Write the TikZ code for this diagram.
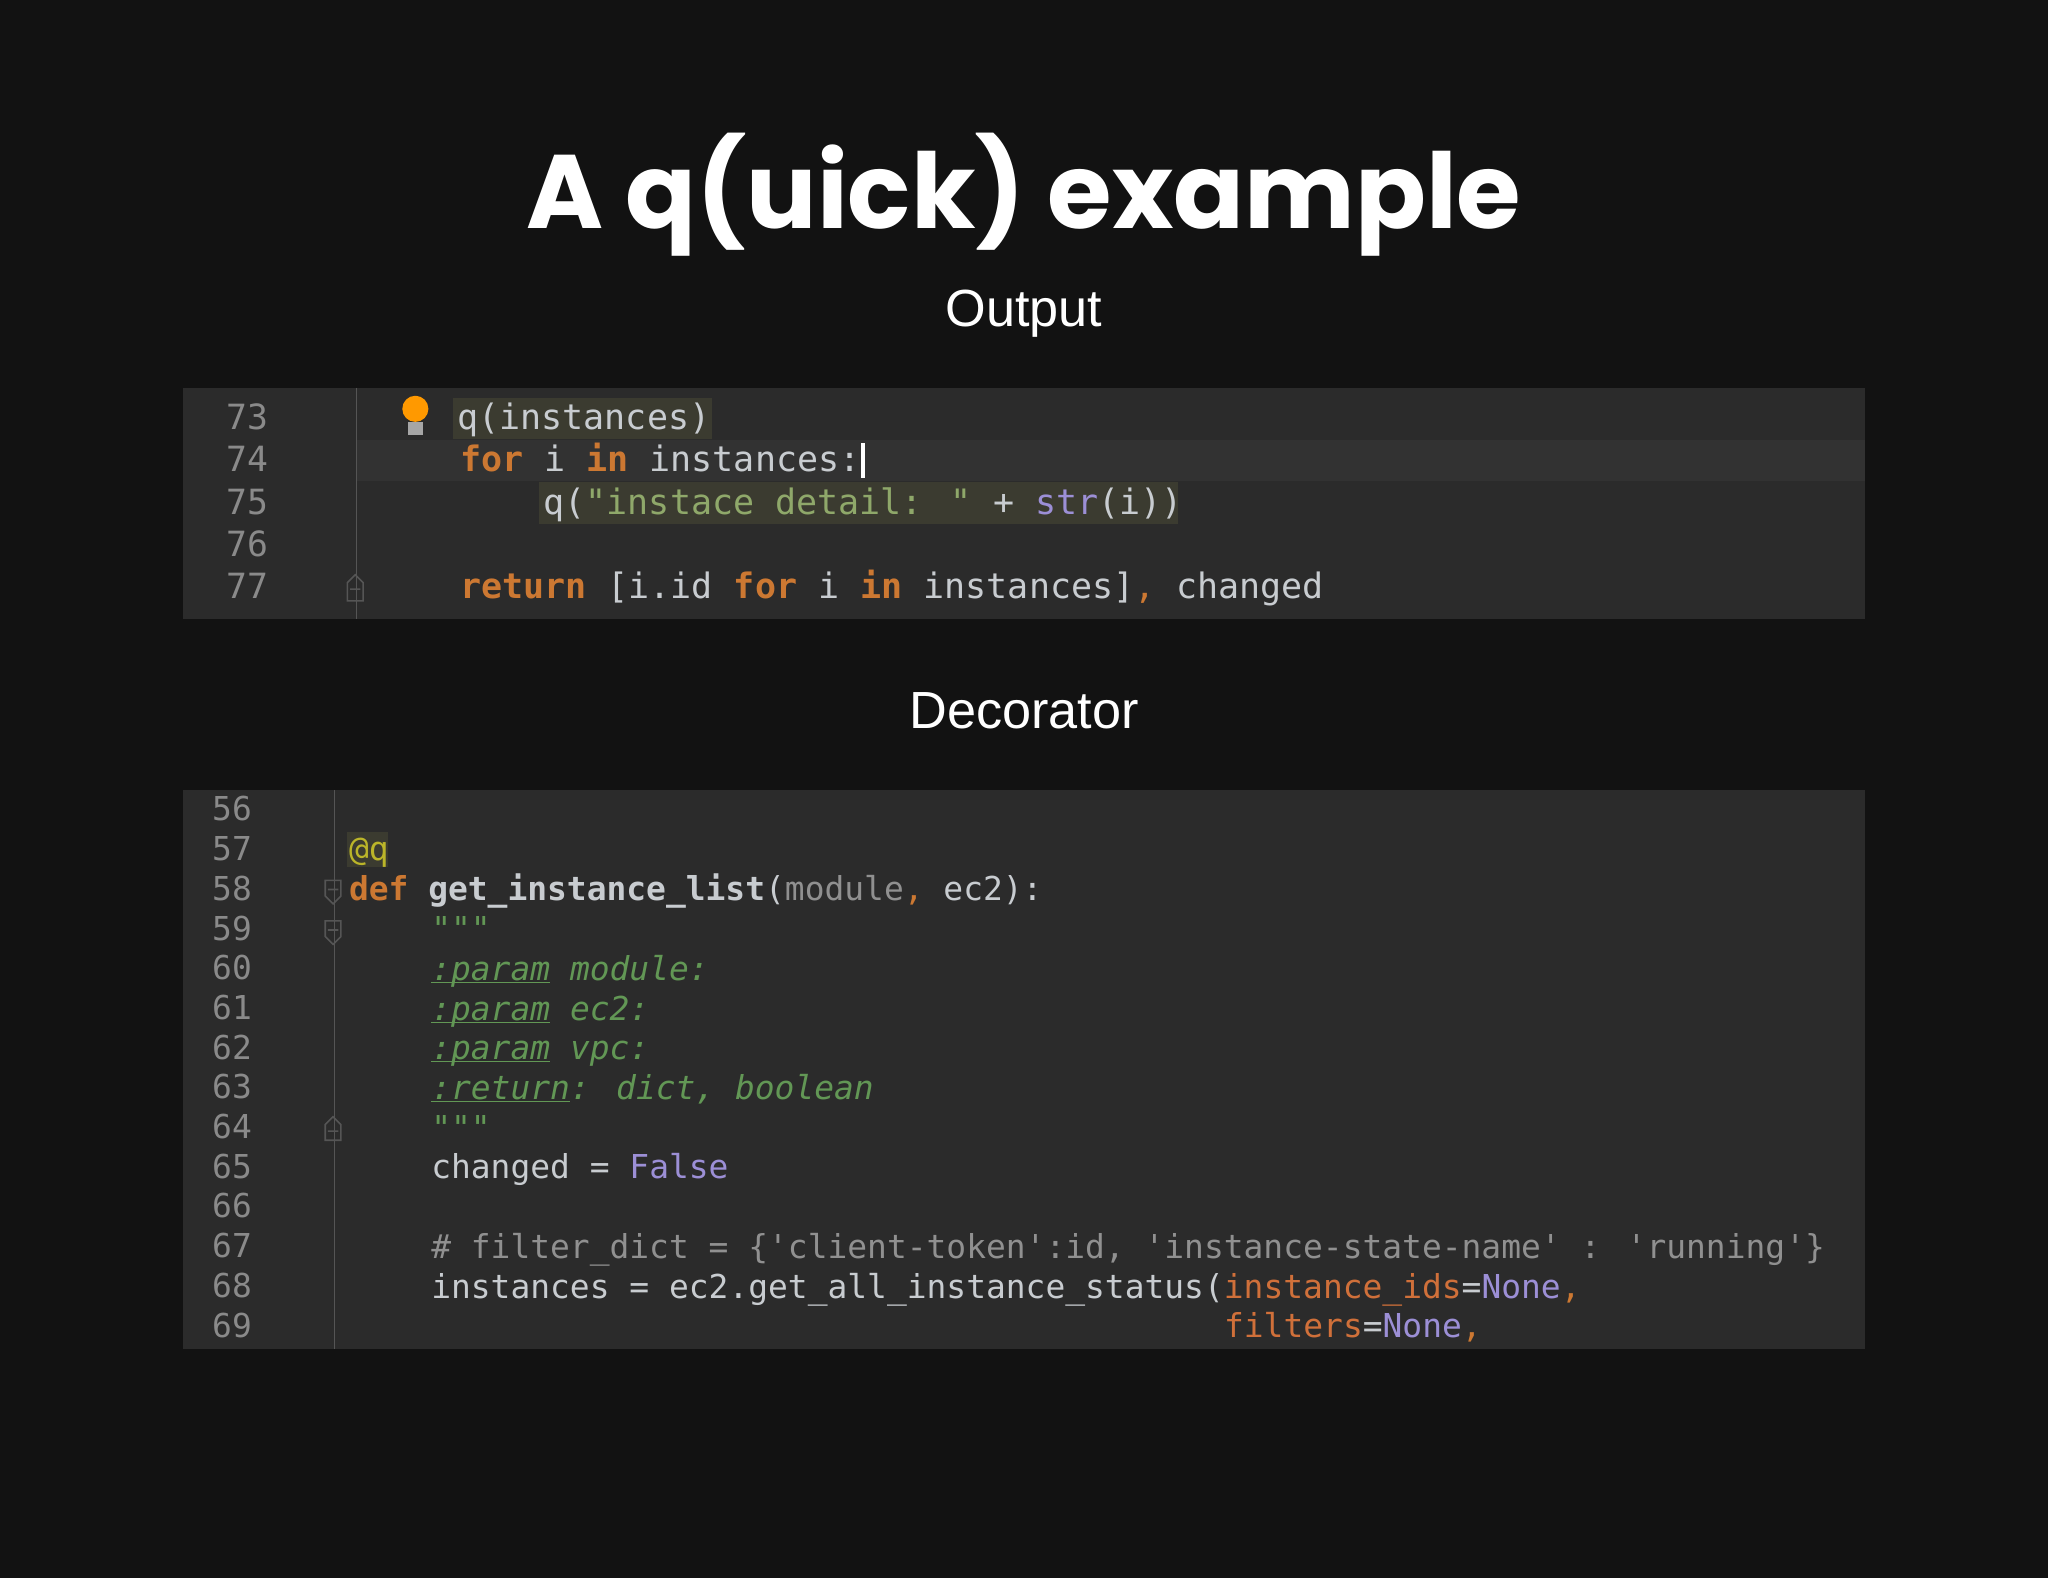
\documentclass[tikz,border=0pt]{standalone}
\usepackage{fontspec}
\setmainfont{Liberation Sans}
\newfontfamily\titlef{Poppins}
\newfontfamily\code{DejaVu Sans Mono}
\definecolor{bg}{HTML}{121212}
\definecolor{panel}{HTML}{2B2B2B}
\definecolor{curline}{HTML}{323232}
\definecolor{hl}{HTML}{3B3B30}
\definecolor{kw}{HTML}{CC7832}
\definecolor{tx}{HTML}{C8CCD0}
\definecolor{st}{HTML}{8FA86A}
\definecolor{pu}{HTML}{9C8FD6}
\definecolor{doc}{HTML}{629755}
\definecolor{cm}{HTML}{909090}
\definecolor{ln}{HTML}{8A8A8A}
\definecolor{dec}{HTML}{BBB529}
\definecolor{par}{HTML}{D0703A}
\definecolor{gut}{HTML}{555555}
\tikzset{
 ca/.style={anchor=base west,inner sep=0pt,text=tx,font=\code\fontsize{26.8}{32}\selectfont},
 cb/.style={anchor=base west,inner sep=0pt,text=tx,font=\code\fontsize{25.2}{30}\selectfont},
 lna/.style={anchor=base east,inner sep=0pt,text=ln,font=\code\fontsize{26.6}{32}\selectfont},
 lnb/.style={anchor=base east,inner sep=0pt,text=ln,font=\code\fontsize{25.2}{30}\selectfont},
 fold/.style={draw=gut,line width=1.2pt}
}
\begin{document}
\begin{tikzpicture}[x=1pt,y=-1pt]
\fill[bg] (0,0) rectangle (1568,1208);
\useasboundingbox (0,0) rectangle (1568,1208);
\node[anchor=base,text=white,font=\titlef\bfseries\fontsize{80}{90}\selectfont] (title) at (784,175) {A q(uick) example};
\node[anchor=base,text=white,font=\fontsize{40}{44}\selectfont] (out) at (784,250) {Output};
\node[anchor=base,text=white,font=\fontsize{40}{44}\selectfont] (deco) at (784,558) {Decorator};
% panel 1
\fill[panel] (140,297) rectangle (1428,474);
\fill[curline] (273,337) rectangle (1428,368);
\fill[hl] (347,305) rectangle (545,336);
\fill[hl] (413,369) rectangle (902,401);
\draw[gut,line width=1pt] (273,297) -- (273,474);
\foreach \n/\y in {73/329,74/361,75/394,76/426,77/458}{\node[lna] (a\n) at (206,\y) {\n};}
\fill[orange!80!yellow] (318,313) circle (10);
\fill[gray!70] (312,323) rectangle (324,333);
\node[ca] (l73) at (350,329) {q(instances)};
\node[ca] (l74) at (352,361) {\textcolor{kw}{\bfseries for} i \textcolor{kw}{\bfseries in} instances:};
\fill[white] (659,339) rectangle (662,366);
\node[ca] (l75) at (416,394) {q(\textcolor{st}{"instace detail: "} + \textcolor{pu}{str}(i))};
\node[ca] (l77) at (352,458) {\textcolor{kw}{\bfseries return} [i.id \textcolor{kw}{\bfseries for} i \textcolor{kw}{\bfseries in} instances]\textcolor{kw}{,} changed};
\draw[fold] (266,460) -- (266,446) -- (272,440) -- (278,446) -- (278,460) -- cycle (268,451) -- (276,451);
% panel 2
\fill[panel] (140,605) rectangle (1428,1033);
\draw[gut,line width=1pt] (256,605) -- (256,1033);
\foreach \n [count=\i from 0] in {56,...,69}{\node[lnb] (b\n) at (193,628.5+30.4*\i) {\n};}
\fill[hl] (266,637) rectangle (297,664);
\node[cb] (m57) at (267,659) {\textcolor{dec}{@q}};
\node[cb] (m58) at (267,689.8) {\textcolor{kw}{\bfseries def} \bfseries get\_instance\_list\mdseries(\textcolor{cm}{module}\textcolor{kw}{,} ec2):};
\node[cb] (m59) at (330,720.2) {\textcolor{doc}{"""}};
\node[cb] (m60) at (330,750.6) {\textcolor{doc}{\itshape\underbar{:param} module:}};
\node[cb] (m61) at (330,781) {\textcolor{doc}{\itshape\underbar{:param} ec2:}};
\node[cb] (m62) at (330,811.4) {\textcolor{doc}{\itshape\underbar{:param} vpc:}};
\node[cb] (m63) at (330,841.8) {\textcolor{doc}{\itshape\underbar{:return}: dict, boolean}};
\node[cb] (m64) at (330,872.2) {\textcolor{doc}{"""}};
\node[cb] (m65) at (330,902.6) {changed = \textcolor{pu}{False}};
\node[cb] (m67) at (330,963.4) {\textcolor{cm}{\# filter\_dict = \{'client-token':id, 'instance-state-name' : 'running'\}}};
\node[cb] (m68) at (330,993.8) {instances = ec2.get\_all\_instance\_status(\textcolor{par}{instance\_ids}=\textcolor{pu}{None}\textcolor{kw}{,}};
\node[cb] (m69) at (937,1024.2) {\textcolor{par}{filters}=\textcolor{pu}{None}\textcolor{kw}{,}};
\draw[fold] (249,674) -- (261,674) -- (261,686) -- (255,692) -- (249,686) -- cycle (251,681) -- (259,681);
\draw[fold] (249,705) -- (261,705) -- (261,717) -- (255,723) -- (249,717) -- cycle (251,712) -- (259,712);
\draw[fold] (249,873) -- (249,861) -- (255,855) -- (261,861) -- (261,873) -- cycle (251,866) -- (259,866);
\end{tikzpicture}
\end{document}
